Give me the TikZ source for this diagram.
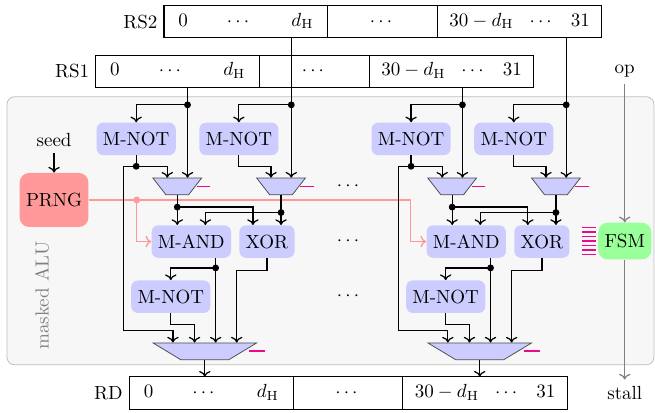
\documentclass[tikz,border=0pt]{standalone}
\usepackage{amsmath}
\usetikzlibrary{arrows.meta,calc,positioning,shapes.geometric,backgrounds}

\definecolor{selpink}{RGB}{235,10,140}

\newcommand{\bitrange}[4]{\makebox[#1]{$#2$\hfill$#3$\hfill$#4$}}

\tikzset{
	reg/.style={draw, semithick, rectangle, minimum height=0.6cm, inner sep=0pt, outer sep=0pt, text height=1.6ex, text depth=0.5ex},
	unit/.style={rectangle, rounded corners=3.5pt, fill=blue!20, minimum height=0.6cm},
	mux/.style={trapezium, trapezium left angle=120, trapezium right angle=120, trapezium stretches=true, draw=black!70, fill=blue!20, minimum width=0.9cm, minimum height=0.31cm, inner sep=1pt},
	wire/.style={line width=0.65pt},
	dot/.style={circle, fill, inner sep=0pt, minimum size=3.6pt},
	sel/.style={draw=selpink, line width=0.9pt},
	rng/.style={red!40, line width=0.7pt},
	ctl/.style={gray, line width=0.65pt},
}

\begin{document}
\begin{tikzpicture}[>={To[length=3pt,width=6pt]}]
	\useasboundingbox (0,0) rectangle (12.12,-7.64);

	% register file
	\node[reg, minimum width=3.03cm] (rs2a) at (4.55,-0.40) {\bitrange{2.5cm}{0}{\cdots}{d_{\mathrm{H}}}};
	\node[reg, minimum width=2.03cm, right=0pt of rs2a] (rs2b) {$\cdots$};
	\node[reg, minimum width=3.04cm, right=0pt of rs2b] (rs2c) {\bitrange{2.6cm}{30-d_{\mathrm{H}}}{\cdots}{31}};
	\node[left=0pt of rs2a] (rs2) {RS2};

	\node[reg, minimum width=3.03cm] (rs1a) at (3.29,-1.32) {\bitrange{2.5cm}{0}{\cdots}{d_{\mathrm{H}}}};
	\node[reg, minimum width=2.03cm, right=0pt of rs1a] (rs1b) {$\cdots$};
	\node[reg, minimum width=3.04cm, right=0pt of rs1b] (rs1c) {\bitrange{2.6cm}{30-d_{\mathrm{H}}}{\cdots}{31}};
	\node[left=0pt of rs1a] (rs1) {RS1};

	\node[reg, minimum width=3.03cm] (rda) at (3.91,-7.27) {\bitrange{2.5cm}{0}{\cdots}{d_{\mathrm{H}}}};
	\node[reg, minimum width=2.03cm, right=0pt of rda] (rdb) {$\cdots$};
	\node[reg, minimum width=3.04cm, right=0pt of rdb] (rdc) {\bitrange{2.6cm}{30-d_{\mathrm{H}}}{\cdots}{31}};
	\node[left=0pt of rda] (rd) {RD};

	% randomness source
	\node[rounded corners=5pt, fill=red!40, minimum height=1cm] (prng) at (1.0,-3.70) {PRNG};
	\node (seed) at (1.0,-2.59) {seed};
	\draw[->, wire] (seed) -- (prng);
	\node[rotate=90, text=gray] (alu) at (0.78,-5.47) {masked ALU};

	% two bit slices
	\foreach \s/\dx in {l/0, r/5.087} {
		\node[unit] (mnota\s) at ({2.52+\dx},-2.57) {M-NOT};
		\node[unit] (mnotb\s) at ({4.42+\dx},-2.57) {M-NOT};
		\node[mux] (muxa\s) at ({3.28+\dx},-3.45) {};
		\node[mux] (muxb\s) at ({5.20+\dx},-3.45) {};
		\node[unit] (mand\s) at ({3.54+\dx},-4.47) {M-AND};
		\node[unit] (xor\s) at ({4.94+\dx},-4.47) {XOR};
		\node[unit] (mnotc\s) at ({3.16+\dx},-5.49) {M-NOT};
		\node[mux, minimum width=1.92cm] (muxo\s) at ({3.79+\dx},-6.50) {};

		\coordinate (tapa\s) at ({3.47+\dx},-1.94);
		\coordinate (tapb\s) at ({5.39+\dx},-1.94);
		\coordinate (nota\s) at ([yshift=-0.2cm]mnota\s.south);
		\coordinate (outa\s) at ([yshift=-0.22cm]muxa\s.south);
		\coordinate (outb\s) at ([yshift=-0.32cm]muxb\s.south);
		\coordinate (outand\s) at ([xshift=0.45cm, yshift=-0.18cm]mand\s.south);

		% operands
		\draw[->, wire] (tapa\s |- rs1a.south) -- (tapa\s |- muxa\s.north);
		\draw[->, wire] (tapa\s) -| (mnota\s.north);
		\draw[->, wire] (tapb\s |- rs2a.south) -- (tapb\s |- muxb\s.north);
		\draw[->, wire] (tapb\s) -| (mnotb\s.north);

		% first stage
		\draw[wire] (mnota\s.south) -- (nota\s);
		\draw[->, wire] (nota\s) -| ([xshift=-0.185cm]muxa\s.north);
		\draw[->, wire] (nota\s) -| ({2.28+\dx},-6.12) -| ([xshift=-0.59cm]muxo\s.north);
		\draw[->, wire] (mnotb\s.south) -- ++(0,-0.2) -| ([xshift=-0.185cm]muxb\s.north);

		% second stage
		\draw[->, wire] (muxa\s.south) -- (muxa\s.south |- mand\s.north);
		\draw[->, wire] (outa\s) -| ([xshift=-0.26cm]xor\s.north);
		\draw[->, wire] (muxb\s.south) -- (muxb\s.south |- xor\s.north);
		\draw[->, wire] (outb\s) -| ([xshift=0.26cm]mand\s.north);

		% result
		\draw[->, wire] (outand\s |- mand\s.south) -- (outand\s |- muxo\s.north);
		\draw[->, wire] (outand\s) -| (mnotc\s.north);
		\draw[->, wire] (mnotc\s.south) -- ++(0,-0.21) -| ([xshift=-0.19cm]muxo\s.north);
		\draw[->, wire] (xor\s.south) -- ++(0,-0.23) -| ([xshift=0.59cm]muxo\s.north);
		\draw[->, wire] (muxo\s.south) -- (muxo\s.south |- rda.north);

		% select lines
		\draw[sel] ([xshift=0.36cm]muxa\s.center) -- ++(0.25,0);
		\draw[sel] ([xshift=0.36cm]muxb\s.center) -- ++(0.25,0);
		\draw[sel] ([xshift=0.81cm]muxo\s.center) -- ++(0.3,0);

		\node[dot] (dtapa\s) at (tapa\s) {};
		\node[dot] (dtapb\s) at (tapb\s) {};
		\node[dot] (dnota\s) at (nota\s) {};
		\node[dot] (douta\s) at (outa\s) {};
		\node[dot] (doutb\s) at (outb\s) {};
		\node[dot] (doutand\s) at (outand\s) {};
	}

	\node (gapa) at (6.47,-3.45) {$\cdots$};
	\node (gapb) at (6.47,-4.47) {$\cdots$};
	\node (gapc) at (6.47,-5.49) {$\cdots$};

	% control
	\node[rounded corners=5pt, fill=green!40, minimum height=0.68cm] (fsm) at (11.56,-4.46) {FSM};
	\node (op) at (fsm |- rs1a) {op};
	\node (stall) at (fsm |- rda) {stall};
	\draw[->, ctl] (op) -- (fsm);
	\draw[->, ctl] (fsm) -- (stall);
	\foreach \i in {0,...,6}
		\draw[sel, line width=0.75pt] ($(fsm.west)+(-0.29,0.25-0.083*\i)$) -- ++(0.25,0);

	\begin{scope}[on background layer]
		\draw[gray!50, fill=gray!6, rounded corners=4pt] (0.13,-1.79) rectangle (12.10,-6.75);
		\coordinate (rngsplit) at (2.53,-3.70);
		\draw[->, rng] (prng.east) -| ([xshift=-0.29cm]mandr.west) -- (mandr.west);
		\draw[->, rng] (rngsplit) |- (mandl.west);
		\fill[red!40] (rngsplit) circle (1.8pt);
	\end{scope}
\end{tikzpicture}
\end{document}
